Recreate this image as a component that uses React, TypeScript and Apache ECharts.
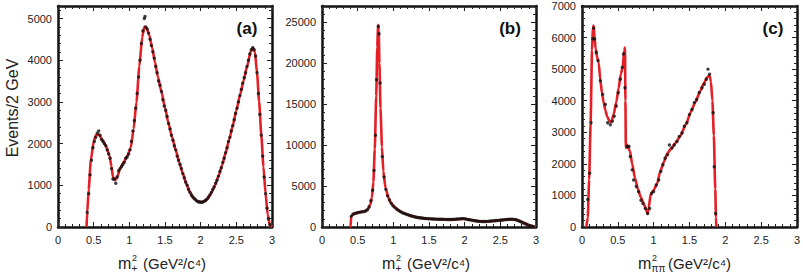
import React, { useEffect, useRef } from "react";
import * as echarts from "echarts";

// ---------- Data ----------
const xTicks = [0, 0.5, 1, 1.5, 2, 2.5, 3];
const panelLabels = ["(a)", "(b)", "(c)"];
const yTitle = "Events/2 GeV";

// Panel (a): fit curve and data points
const aFit: number[][] = [
  [0.4, 0], [0.41, 350], [0.43, 900], [0.46, 1600], [0.5, 2050], [0.53, 2200], [0.57, 2220], [0.62, 2100],
  [0.67, 1950], [0.72, 1720], [0.75, 1450], [0.77, 1200], [0.8, 1120], [0.83, 1200], [0.87, 1400], [0.92, 1550],
  [0.97, 1700], [1.02, 1900], [1.06, 2350], [1.1, 3000], [1.14, 3850], [1.18, 4550], [1.21, 4800], [1.24, 4780],
  [1.28, 4600], [1.32, 4300], [1.36, 3950], [1.4, 3600], [1.45, 3250], [1.5, 2850], [1.55, 2480], [1.6, 2150],
  [1.65, 1850], [1.7, 1550], [1.75, 1280], [1.8, 1030], [1.85, 830], [1.9, 700], [1.95, 620], [2.0, 600],
  [2.05, 610], [2.1, 680], [2.15, 820], [2.2, 1000], [2.25, 1220], [2.3, 1480], [2.35, 1780], [2.4, 2100],
  [2.45, 2430], [2.5, 2800], [2.55, 3150], [2.6, 3500], [2.65, 3850], [2.7, 4200], [2.73, 4300], [2.76, 4200],
  [2.79, 3700], [2.82, 3000], [2.85, 2200], [2.88, 1450], [2.91, 800], [2.94, 300], [2.97, 50], [3.0, 0],
];
const aData: number[][] = [
  [0.41, 350], [0.43, 800], [0.45, 1250], [0.47, 1600], [0.49, 1900], [0.51, 2050], [0.53, 2150], [0.55, 2250],
  [0.57, 2300], [0.59, 2200], [0.61, 2100], [0.63, 2050], [0.65, 2000], [0.67, 1950], [0.69, 1850], [0.71, 1750],
  [0.73, 1650], [0.75, 1400], [0.77, 1150], [0.79, 1150], [0.81, 1050], [0.83, 1200], [0.85, 1350], [0.87, 1400],
  [0.89, 1450], [0.91, 1500], [0.93, 1550], [0.95, 1650], [0.97, 1680], [0.99, 1750], [1.01, 1850], [1.03, 2050],
  [1.05, 2300], [1.07, 2550], [1.09, 2850], [1.11, 3200], [1.13, 3600], [1.15, 4000], [1.17, 4400], [1.19, 4700],
  [1.21, 5000], [1.22, 5050], [1.23, 4800], [1.25, 4750], [1.27, 4650], [1.29, 4500], [1.31, 4350], [1.33, 4200],
  [1.35, 4050], [1.37, 3850], [1.39, 3700], [1.41, 3500], [1.43, 3400], [1.45, 3250], [1.47, 3050], [1.49, 2900],
  [1.51, 2800], [1.53, 2650], [1.55, 2480], [1.57, 2350], [1.59, 2200], [1.61, 2080], [1.63, 1950], [1.65, 1850],
  [1.67, 1700], [1.69, 1600], [1.71, 1500], [1.73, 1400], [1.75, 1280], [1.77, 1180], [1.79, 1080], [1.81, 1000],
  [1.83, 900], [1.85, 830], [1.87, 760], [1.89, 720], [1.91, 680], [1.93, 650], [1.95, 620], [1.97, 600],
  [1.99, 600], [2.01, 590], [2.03, 600], [2.05, 620], [2.07, 640], [2.09, 670], [2.11, 720], [2.13, 770],
  [2.15, 830], [2.17, 900], [2.19, 960], [2.21, 1050], [2.23, 1120], [2.25, 1220], [2.27, 1330], [2.29, 1420],
  [2.31, 1550], [2.33, 1650], [2.35, 1780], [2.37, 1900], [2.39, 2050], [2.41, 2150], [2.43, 2300], [2.45, 2430],
  [2.47, 2570], [2.49, 2720], [2.51, 2850], [2.53, 3000], [2.55, 3150], [2.57, 3300], [2.59, 3450], [2.61, 3580],
  [2.63, 3700], [2.65, 3850], [2.67, 4000], [2.69, 4150], [2.71, 4250], [2.73, 4300], [2.75, 4250], [2.77, 4100],
  [2.79, 3700], [2.81, 3200], [2.83, 2700], [2.85, 2200], [2.87, 1700], [2.89, 1200], [2.91, 800], [2.93, 450],
  [2.95, 200], [2.97, 60],
];

// Panel (b)
const bFit: number[][] = [
  [0.39, 0], [0.4, 50], [0.41, 1300], [0.44, 1600], [0.5, 1750], [0.55, 1850], [0.6, 1900], [0.64, 2100],
  [0.68, 2800], [0.7, 3600], [0.72, 5500], [0.74, 9500], [0.76, 16000], [0.775, 22000], [0.785, 24700],
  [0.795, 24000], [0.805, 20000], [0.82, 14500], [0.84, 9800], [0.86, 6800], [0.89, 4800], [0.93, 3600],
  [0.97, 2900], [1.02, 2400], [1.08, 2000], [1.15, 1650], [1.25, 1350], [1.35, 1150], [1.5, 1000], [1.65, 950],
  [1.8, 920], [1.9, 950], [2.0, 1000], [2.1, 850], [2.2, 700], [2.3, 680], [2.4, 740], [2.5, 820], [2.6, 920],
  [2.68, 950], [2.75, 820], [2.82, 550], [2.9, 250], [2.96, 60], [3.0, 0],
];
const bData: number[][] = [
  [0.41, 1300], [0.435, 1550], [0.46, 1650], [0.485, 1700], [0.51, 1780], [0.535, 1820], [0.56, 1850],
  [0.585, 1880], [0.61, 1950], [0.635, 2100], [0.66, 2450], [0.685, 3200], [0.71, 4500], [0.73, 6900],
  [0.75, 11200], [0.765, 18000], [0.79, 24500], [0.8, 23600], [0.815, 17600], [0.845, 8600], [0.87, 6100],
  [0.895, 4600], [0.92, 3800], [0.945, 3300], [0.97, 2900], [0.995, 2600], [1.02, 2400], [1.045, 2200],
  [1.07, 2050], [1.095, 1900], [1.12, 1780], [1.145, 1680], [1.17, 1600], [1.195, 1520], [1.22, 1450],
  [1.245, 1380], [1.27, 1320], [1.295, 1260], [1.32, 1200], [1.345, 1160], [1.37, 1120], [1.395, 1090],
  [1.42, 1060], [1.445, 1040], [1.47, 1020], [1.495, 1000], [1.52, 990], [1.545, 980], [1.57, 970],
  [1.595, 960], [1.62, 955], [1.645, 950], [1.67, 945], [1.695, 940], [1.72, 930], [1.745, 925], [1.77, 920],
  [1.795, 920], [1.82, 925], [1.845, 935], [1.87, 950], [1.895, 970], [1.92, 990], [1.945, 1010], [1.97, 1020],
  [1.995, 1000], [2.02, 960], [2.045, 920], [2.07, 880], [2.095, 840], [2.12, 800], [2.145, 760], [2.17, 730],
  [2.195, 710], [2.22, 690], [2.245, 680], [2.27, 675], [2.295, 680], [2.32, 690], [2.345, 710], [2.37, 730],
  [2.395, 750], [2.42, 770], [2.445, 790], [2.47, 810], [2.495, 830], [2.52, 850], [2.545, 870], [2.57, 900],
  [2.595, 920], [2.62, 940], [2.645, 950], [2.67, 950], [2.695, 930], [2.72, 880], [2.745, 800], [2.77, 700],
  [2.795, 600], [2.82, 500], [2.845, 400], [2.87, 300], [2.895, 220], [2.92, 150], [2.945, 90], [2.97, 40],
];

// Panel (c)
const cFit: number[][] = [
  [0.06, 0], [0.08, 300], [0.1, 1500], [0.12, 3300], [0.14, 5600], [0.152, 6350], [0.163, 6380], [0.175, 6000],
  [0.19, 5650], [0.21, 5390], [0.233, 5200], [0.256, 4650], [0.28, 4230], [0.3, 3970], [0.326, 3700],
  [0.35, 3500], [0.386, 3350], [0.41, 3320], [0.44, 3550], [0.48, 3970], [0.51, 4390], [0.544, 4860],
  [0.567, 5070], [0.59, 5600], [0.6, 5680], [0.606, 4000], [0.612, 2500], [0.63, 2600], [0.67, 2400],
  [0.7, 2000], [0.74, 1550], [0.78, 1200], [0.82, 950], [0.86, 750], [0.89, 580], [0.915, 420],
  [0.93, 600], [0.96, 1050], [1.0, 1170], [1.05, 1380], [1.09, 1750], [1.14, 2050], [1.19, 2330], [1.25, 2500],
  [1.3, 2650], [1.37, 2870], [1.45, 3250], [1.52, 3650], [1.58, 3950], [1.65, 4300], [1.7, 4550], [1.75, 4750],
  [1.78, 4800], [1.8, 4600], [1.82, 4000], [1.84, 2900], [1.86, 1200], [1.87, 300], [1.875, 0],
];
const cData: number[][] = [
  [0.08, 870], [0.107, 1700], [0.126, 3300], [0.152, 5960], [0.163, 6300], [0.177, 5960], [0.2, 5530],
  [0.223, 5270], [0.256, 4630], [0.288, 4200], [0.326, 3880], [0.358, 3300], [0.395, 3240], [0.423, 3350],
  [0.45, 3510], [0.479, 3830], [0.507, 4250], [0.535, 4680], [0.563, 5050], [0.58, 5480], [0.6, 4410],
  [0.628, 2550], [0.656, 2550], [0.674, 2230], [0.7, 1810], [0.72, 1490], [0.758, 1280], [0.79, 1120],
  [0.823, 850], [0.85, 745], [0.884, 585], [0.916, 425], [0.944, 585], [0.972, 1060], [1.0, 1120],
  [1.037, 1330], [1.07, 1490], [1.1, 1755], [1.13, 1970], [1.16, 2180], [1.195, 2290], [1.22, 2600],
  [1.256, 2500], [1.288, 2600], [1.325, 2710], [1.358, 2870], [1.395, 2980], [1.428, 3190], [1.465, 3300],
  [1.5, 3560], [1.535, 3720], [1.567, 3940], [1.6, 4040], [1.637, 4260], [1.674, 4410], [1.707, 4520],
  [1.735, 4680], [1.758, 5000], [1.78, 4840], [1.83, 3620], [1.846, 1910], [1.865, 425],
];

const yMax = [5300, 27000, 7000];
const yInterval = [1000, 5000, 1000];

// ---------- Layout ----------
const grids = [
  { left: 58, top: 6, width: 214, height: 221 },
  { left: 322, top: 6, width: 214, height: 221 },
  { left: 582, top: 6, width: 215, height: 221 },
];

const FONT = "Liberation Sans, Arial, Helvetica, sans-serif";
const RED = "#e41f26";

export default function App() {
  const ref = useRef<HTMLDivElement>(null);
  useEffect(() => {
    if (!ref.current) return;
    const chart = echarts.init(ref.current, undefined, { renderer: "svg" });

    const xAxes: any[] = [];
    const yAxes: any[] = [];
    const lineStyle = { color: "#111", width: 2.5 };
    grids.forEach((_, i) => {
      const baseX = {
        type: "value",
        gridIndex: i,
        min: 0,
        max: 3,
        interval: 0.5,
        splitLine: { show: false },
        axisLine: { show: true, onZero: false, lineStyle },
        axisTick: { show: true, inside: true, length: 5, lineStyle: { color: "#222", width: 1 } },
        minorTick: { show: true, splitNumber: 5, length: 3, lineStyle: { color: "#222", width: 1 } },
      };
      xAxes.push({
        ...baseX,
        position: "bottom",
        axisLabel: {
          show: true,
          margin: 7,
          fontSize: 11,
          fontFamily: FONT,
          color: "#222",
          formatter: (v: number) => (xTicks.includes(v) ? String(v) : ""),
        },
      });
      xAxes.push({ ...baseX, position: "top", axisLabel: { show: false } });
      const baseY = {
        type: "value",
        gridIndex: i,
        min: 0,
        max: yMax[i],
        interval: yInterval[i],
        splitLine: { show: false },
        axisLine: { show: true, onZero: false, lineStyle },
        axisTick: { show: true, inside: true, length: 5, lineStyle: { color: "#222", width: 1 } },
        minorTick: { show: true, splitNumber: 5, length: 3, lineStyle: { color: "#222", width: 1 } },
      };
      yAxes.push({
        ...baseY,
        position: "left",
        axisLabel: {
          show: true,
          margin: 6,
          fontSize: 11,
          fontFamily: FONT,
          color: "#222",
          showMaxLabel: i === 2,
          formatter: (v: number) => String(v),
        },
      });
      yAxes.push({ ...baseY, position: "right", axisLabel: { show: false } });
    });

    const fits = [aFit, bFit, cFit];
    const datas = [aData, bData, cData];
    const series: any[] = [];
    for (let i = 0; i < 3; i++) {
      series.push({
        type: "line",
        xAxisIndex: i * 2,
        yAxisIndex: i * 2,
        data: fits[i],
        showSymbol: false,
        smooth: 0.2,
        smoothMonotone: "x",
        lineStyle: { color: RED, width: 2.6 },
        z: 2,
      });
      series.push({
        type: "scatter",
        xAxisIndex: i * 2,
        yAxisIndex: i * 2,
        data: datas[i],
        symbol: "circle",
        symbolSize: 3.4,
        itemStyle: { color: "#111" },
        z: 3,
      });
    }

    const labelPos = [
      [247, 28],
      [510, 28],
      [773, 28],
    ];
    const graphics: any[] = [];
    panelLabels.forEach((t, i) => {
      graphics.push({
        type: "text",
        x: labelPos[i][0],
        y: labelPos[i][1],
        style: {
          text: t,
          font: `bold 17px ${FONT}`,
          fill: "#111",
          textAlign: "center",
          textVerticalAlign: "middle",
        },
      });
    });
    graphics.push({
      type: "text",
      x: 12,
      y: 108,
      rotation: Math.PI / 2,
      style: {
        text: yTitle,
        font: `16px ${FONT}`,
        fill: "#222",
        textAlign: "center",
        textVerticalAlign: "middle",
      },
    });

    const subs = ["+", "+", "ππ"];
    const titleStart = [118, 382, 638];
    subs.forEach((s, i) => {
      const x0 = titleStart[i];
      const subW = s === "ππ" ? 12 : 7;
      graphics.push({
        type: "group",
        x: x0,
        y: 263,
        children: [
          { type: "text", x: 0, y: 0, style: { text: "m", font: `16px ${FONT}`, fill: "#222", textVerticalAlign: "middle" } },
          { type: "text", x: 14, y: -5, style: { text: "2", font: `9px ${FONT}`, fill: "#222", textVerticalAlign: "middle" } },
          { type: "text", x: 13.5, y: 5, style: { text: s, font: `10px ${FONT}`, fill: "#222", textVerticalAlign: "middle" } },
          {
            type: "text",
            x: 14 + subW + 4,
            y: 0,
            style: { text: "(GeV²/c⁴)", font: `15px ${FONT}`, fill: "#222", textVerticalAlign: "middle" },
          },
        ],
      });
    });

    chart.setOption({
      animation: false,
      backgroundColor: "#fff",
      grid: grids.map((g) => ({ ...g, containLabel: false })),
      xAxis: xAxes,
      yAxis: yAxes,
      series,
      graphic: graphics,
    });
    return () => chart.dispose();
  }, []);
  return <div ref={ref} style={{ width: 803, height: 275, position: "absolute", left: 0, top: 0 }} />;
}
